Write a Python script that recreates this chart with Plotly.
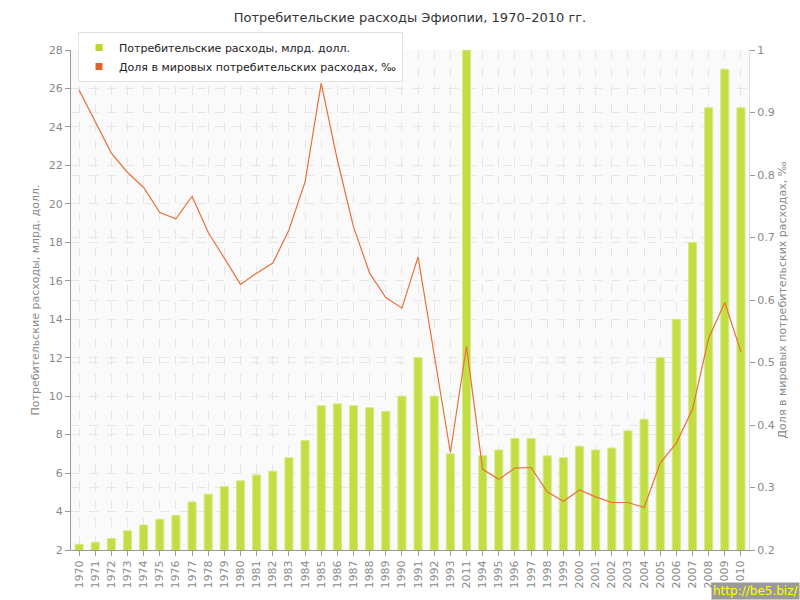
import plotly.graph_objects as go

years = [str(y) for y in range(1970, 1994)] + ["2011"] + [str(y) for y in range(1994, 2011)]

spending = [2.3, 2.4, 2.6, 3.0, 3.3, 3.6, 3.8, 4.5, 4.9, 5.3,
            5.6, 5.9, 6.1, 6.8, 7.7, 9.5, 9.6, 9.5, 9.4, 9.2,
            10.0, 12.0, 10.0, 7.0,
            28.0,
            6.9, 7.2, 7.8, 7.8, 6.9, 6.8, 7.4, 7.2, 7.3, 8.2,
            8.8, 12.0, 14.0, 18.0, 25.0, 27.0, 25.0]

share = [0.936, 0.886, 0.835, 0.804, 0.780, 0.740, 0.730, 0.766, 0.708, 0.667,
         0.625, 0.643, 0.659, 0.712, 0.789, 0.947, 0.824, 0.717, 0.643, 0.604,
         0.587, 0.669, 0.510, 0.356,
         0.526,
         0.329, 0.313, 0.331, 0.332, 0.293, 0.278, 0.296, 0.285, 0.276, 0.276,
         0.268, 0.339, 0.371, 0.425, 0.539, 0.596, 0.517]

title = "Потребительские расходы Эфиопии, 1970–2010 гг."
name_bar = "Потребительские расходы, млрд. долл."
name_line = "Доля в мировых потребительских расходах, ‰"

FONT = "DejaVu Sans, Verdana, sans-serif"
GREEN = "#c3de42"
ORANGE = "#e8703a"
GRID = "#e6e6e6"
TICK = "#8a8a8a"

PW, PH = 678, 500  # plot area size in px (for paper-coordinate placement)

fig = go.Figure()
fig.add_trace(go.Bar(x=years, y=spending, name=name_bar, showlegend=False,
                     marker=dict(color=GREEN, line=dict(color="#d6ea8a", width=1)),
                     width=0.5, yaxis="y"))
fig.add_trace(go.Scatter(x=years, y=share, name=name_line, showlegend=False,
                         mode="lines", line=dict(color=ORANGE, width=1.2), yaxis="y2"))
# legend entries with square markers
fig.add_trace(go.Scatter(x=[None], y=[None], mode="markers", name=name_bar,
                         marker=dict(symbol="square", color="#b5d92b", size=7)))
fig.add_trace(go.Scatter(x=[None], y=[None], mode="markers", name=name_line,
                         marker=dict(symbol="square", color="#e3622c", size=7)))

fig.update_layout(
    width=800, height=600,
    margin=dict(l=71, r=51, t=50, b=50, autoexpand=False),
    paper_bgcolor="white", plot_bgcolor="#fafafa",
    font=dict(family=FONT, size=11, color=TICK),
    title=dict(text=title, x=0.5, xanchor="center", xref="paper",
               y=1 - 17 / 600, yanchor="middle", yref="container",
               font=dict(family=FONT, size=13, color="#333333")),
    showlegend=True,
    legend=dict(x=(78 - 71) / PW, y=1 + (50 - 32) / PH,
                xanchor="left", yanchor="top",
                bgcolor="white", bordercolor="#e2e2e2", borderwidth=1,
                font=dict(family=FONT, size=11, color="#222222"),
                itemwidth=30, tracegroupgap=0),
    bargap=0.5,
    xaxis=dict(type="category", tickangle=-90, showgrid=True, gridcolor=GRID,
               griddash="dash", gridwidth=1, showline=True, linecolor="#999999",
               ticks="outside", ticklen=5, tickcolor="#999999",
               tickfont=dict(family=FONT, size=11, color=TICK),
               range=[-0.5, 41.5]),
    yaxis=dict(range=[2, 28], dtick=2, showgrid=True, gridcolor=GRID, griddash="dash",
               showline=True, linecolor="#999999", ticks="outside", ticklen=5,
               tickcolor="#999999", zeroline=False,
               tickfont=dict(family=FONT, size=11, color=TICK),
               title=dict(text=name_bar, font=dict(family=FONT, size=11, color=TICK), standoff=6)),
    yaxis2=dict(range=[0.2, 1.0], dtick=0.1, overlaying="y", side="right",
                showgrid=True, gridcolor=GRID, griddash="dash",
                showline=True, linecolor="#dddddd", ticks="outside", ticklen=5,
                tickcolor="#999999", zeroline=False,
                tickfont=dict(family=FONT, size=11, color=TICK),
                title=dict(text=name_line, font=dict(family=FONT, size=11, color=TICK), standoff=4)),
)

fig.add_annotation(text="http://be5.biz/", xref="paper", yref="paper",
                   x=1.0 + 51 / PW, y=-50 / PH, xanchor="right", yanchor="bottom",
                   showarrow=False, bgcolor="#9a9a9a", borderpad=1,
                   font=dict(family=FONT, size=12, color="#ffff00"))

fig.write_html("out.html", config={"displayModeBar": False},
               post_script="document.body.style.margin='0';document.body.style.overflow='hidden';")
